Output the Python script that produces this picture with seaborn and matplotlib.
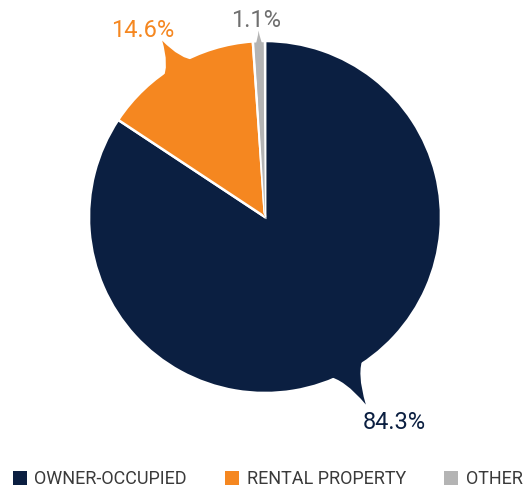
import numpy as np
import matplotlib
matplotlib.use("Agg")
import matplotlib.pyplot as plt
import seaborn as sns
from matplotlib.path import Path
from matplotlib.patches import PathPatch, Patch

# data
categories = ["OWNER-OCCUPIED", "RENTAL PROPERTY", "OTHER"]
shares = [84.3, 14.6, 1.1]
colors = ["#0b1f41", "#f58720", "#b4b4b4"]
label_colors = ["#0b1f41", "#f58720", "#6f6f6f"]

# callout styling per slice: tail half width (deg), tail tip radius,
# label radius and label angle shift (deg)
tail_half = [7.0, 6.5, 1.4]
tail_tip = [1.21, 1.16, 1.06]
label_r = [1.38, 1.27, 1.12]
label_shift = [4.0, 3.0, 0.5]

sns.set_theme(style="white")
plt.rcParams["font.family"] = ["Roboto", "DejaVu Sans"]

fig = plt.figure(figsize=(5.32, 4.94), dpi=100)
ax = fig.add_axes([0, 0, 1, 1])
R = 176.0

wedges, _ = ax.pie(shares, colors=colors, startangle=90, counterclock=False,
                   radius=1.0, center=(0, 0), frame=False,
                   wedgeprops=dict(edgecolor="white", linewidth=1.8, zorder=0.5))
ax.set_xlim(-265 / R, (532 - 265) / R)
ax.set_ylim(-(494 - 217) / R, 217 / R)
ax.set_aspect("auto")
ax.axis("off")


def pt(ang, r):
    a = np.deg2rad(ang)
    return (r * np.cos(a), r * np.sin(a))


for i, w in enumerate(wedges):
    mid = (w.theta1 + w.theta2) / 2.0
    hw = tail_half[i]
    rt = tail_tip[i]
    b1 = pt(mid + hw, 0.97)
    c1 = pt(mid + hw * 0.3, 1.0 + 0.12 * (rt - 1.0))
    tip = pt(mid, rt)
    c2 = pt(mid - hw * 0.3, 1.0 + 0.12 * (rt - 1.0))
    b2 = pt(mid - hw, 0.97)
    verts = [b1, c1, tip, c2, b2, (0, 0), b1]
    codes = [Path.MOVETO, Path.CURVE3, Path.CURVE3, Path.CURVE3, Path.CURVE3,
             Path.LINETO, Path.CLOSEPOLY]
    ax.add_patch(PathPatch(Path(verts, codes), facecolor=colors[i],
                           edgecolor="none", zorder=1))
    lx, ly = pt(mid + label_shift[i], label_r[i])
    ax.text(lx, ly, f"{shares[i]:.1f}%", color=label_colors[i], fontsize=17,
            ha="center", va="center", zorder=3)

handles = [Patch(facecolor=c, edgecolor="none") for c in colors]
fig.legend(handles, categories, loc="center", bbox_to_anchor=(0.503, 0.03),
           ncol=3, frameon=False, fontsize=13, handlelength=0.8,
           handleheight=0.8, handletextpad=0.4, columnspacing=2.1,
           labelcolor="#3a3a3a")

fig.savefig("out.png", dpi=100)
